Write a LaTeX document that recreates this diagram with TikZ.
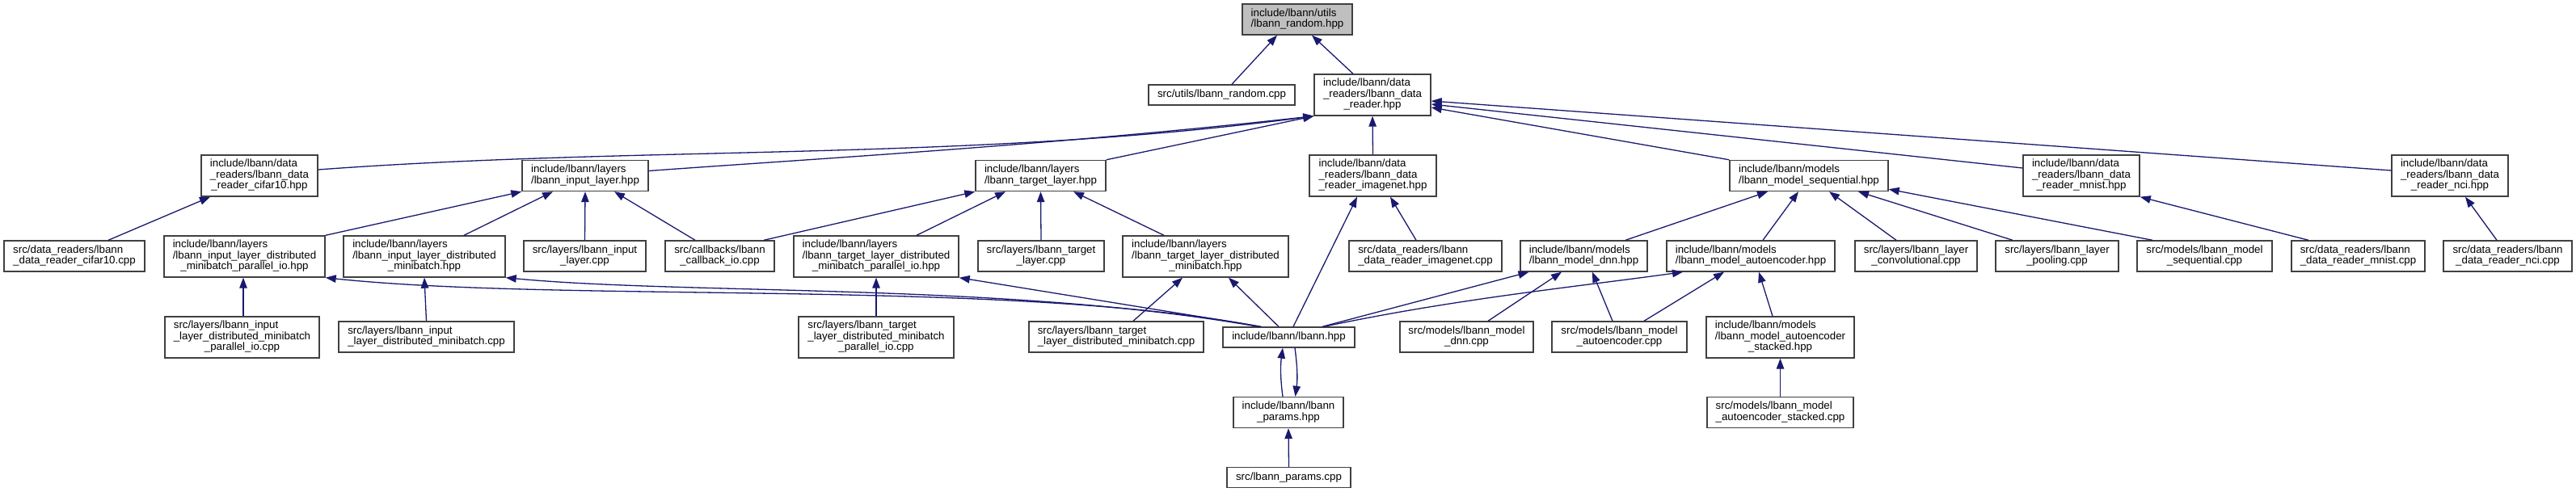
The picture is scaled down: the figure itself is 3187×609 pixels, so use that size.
\documentclass[tikz,border=0pt]{standalone}
\usepackage{fontspec}
\setmainfont{Liberation Sans}
\usetikzlibrary{arrows.meta}
\definecolor{mblue}{RGB}{25,25,112}
\definecolor{boxc}{RGB}{64,64,64}
\definecolor{rootfill}{RGB}{191,191,191}
\newcommand\lbfont{\fontsize{13.3}{13}\selectfont}
\newcommand\lines[2]{\begin{tabular}{@{}l@{}}#1\\\multicolumn{1}{@{}c@{}}{#2}\end{tabular}}
\tikzset{
  filebox/.style={draw=boxc, line width=1.4pt, fill=white, inner sep=0pt, font=\lbfont},
  rootbox/.style={filebox, fill=rootfill},
  dep/.style={draw=mblue, line width=1.3pt, arrows={Triangle[length=13pt,width=9.5pt]-}}
}
\begin{document}
\begin{tikzpicture}[x=1pt,y=-1pt]
\fill[white] (0,0) rectangle (3187,609);
\useasboundingbox (0,0) rectangle (3187,609);
% row 0
\node[rootbox, minimum width=136pt, minimum height=38pt] (random_h) at (1605,24) {\lines{include/lbann/utils}{/lbann\_random.hpp}};
% row 1
\node[filebox, minimum width=181pt, minimum height=25pt] (random_cpp) at (1511.5,117.5) {src/utils/lbann\_random.cpp};
\node[filebox, minimum width=144pt, minimum height=51pt] (dr_h) at (1698,117.5) {\lines{include/lbann/data\\\_readers/lbann\_data}{\_reader.hpp}};
% row 2
\node[filebox, minimum width=144pt, minimum height=51pt] (cifar_h) at (321,217.5) {\lines{include/lbann/data\\\_readers/lbann\_data}{\_reader\_cifar10.hpp}};
\node[filebox, minimum width=156pt, minimum height=38pt] (inl_h) at (724,217.5) {\lines{include/lbann/layers}{/lbann\_input\_layer.hpp}};
\node[filebox, minimum width=161pt, minimum height=38pt] (tgl_h) at (1287.5,217.5) {\lines{include/lbann/layers}{/lbann\_target\_layer.hpp}};
\node[filebox, minimum width=157pt, minimum height=51pt] (img_h) at (1698.5,217.5) {\lines{include/lbann/data\\\_readers/lbann\_data}{\_reader\_imagenet.hpp}};
\node[filebox, minimum width=196pt, minimum height=38pt] (seq_h) at (2238,217.5) {\lines{include/lbann/models}{/lbann\_model\_sequential.hpp}};
\node[filebox, minimum width=144pt, minimum height=51pt] (mnist_h) at (2575,217.5) {\lines{include/lbann/data\\\_readers/lbann\_data}{\_reader\_mnist.hpp}};
\node[filebox, minimum width=144pt, minimum height=51pt] (nci_h) at (3031,217.5) {\lines{include/lbann/data\\\_readers/lbann\_data}{\_reader\_nci.hpp}};
% row 3
\node[filebox, minimum width=174pt, minimum height=38pt] (cifar_cpp) at (92,317) {\lines{src/data\_readers/lbann}{\_data\_reader\_cifar10.cpp}};
\node[filebox, minimum width=199pt, minimum height=51pt] (indmp_h) at (302.5,317.5) {\lines{include/lbann/layers\\/lbann\_input\_layer\_distributed}{\_minibatch\_parallel\_io.hpp}};
\node[filebox, minimum width=200pt, minimum height=51pt] (indm_h) at (525,317.5) {\lines{include/lbann/layers\\/lbann\_input\_layer\_distributed}{\_minibatch.hpp}};
\node[filebox, minimum width=151pt, minimum height=38pt] (inl_cpp) at (723.5,317) {\lines{src/layers/lbann\_input}{\_layer.cpp}};
\node[filebox, minimum width=135pt, minimum height=38pt] (cb_cpp) at (890.5,317) {\lines{src/callbacks/lbann}{\_callback\_io.cpp}};
\node[filebox, minimum width=204pt, minimum height=51pt] (tgdmp_h) at (1084,317.5) {\lines{include/lbann/layers\\/lbann\_target\_layer\_distributed}{\_minibatch\_parallel\_io.hpp}};
\node[filebox, minimum width=156pt, minimum height=38pt] (tgl_cpp) at (1288,317) {\lines{src/layers/lbann\_target}{\_layer.cpp}};
\node[filebox, minimum width=205pt, minimum height=51pt] (tgdm_h) at (1491.5,317.5) {\lines{include/lbann/layers\\/lbann\_target\_layer\_distributed}{\_minibatch.hpp}};
\node[filebox, minimum width=189pt, minimum height=38pt] (img_cpp) at (1763.5,317) {\lines{src/data\_readers/lbann}{\_data\_reader\_imagenet.cpp}};
\node[filebox, minimum width=157pt, minimum height=38pt] (dnn_h) at (1959.5,317) {\lines{include/lbann/models}{/lbann\_model\_dnn.hpp}};
\node[filebox, minimum width=208pt, minimum height=38pt] (ae_h) at (2166,317) {\lines{include/lbann/models}{/lbann\_model\_autoencoder.hpp}};
\node[filebox, minimum width=151pt, minimum height=38pt] (conv_cpp) at (2370.5,317) {\lines{src/layers/lbann\_layer}{\_convolutional.cpp}};
\node[filebox, minimum width=152pt, minimum height=38pt] (pool_cpp) at (2545,317) {\lines{src/layers/lbann\_layer}{\_pooling.cpp}};
\node[filebox, minimum width=167pt, minimum height=38pt] (seq_cpp) at (2727.5,317) {\lines{src/models/lbann\_model}{\_sequential.cpp}};
\node[filebox, minimum width=165pt, minimum height=38pt] (mnist_cpp) at (2917.5,317) {\lines{src/data\_readers/lbann}{\_data\_reader\_mnist.cpp}};
\node[filebox, minimum width=159pt, minimum height=38pt] (nci_cpp) at (3102.5,317) {\lines{src/data\_readers/lbann}{\_data\_reader\_nci.cpp}};
% row 4
\node[filebox, minimum width=191pt, minimum height=51pt] (indmp_cpp) at (299.5,417.5) {\lines{src/layers/lbann\_input\\\_layer\_distributed\_minibatch}{\_parallel\_io.cpp}};
\node[filebox, minimum width=217pt, minimum height=38pt] (indm_cpp) at (527.5,417) {\lines{src/layers/lbann\_input}{\_layer\_distributed\_minibatch.cpp}};
\node[filebox, minimum width=192pt, minimum height=51pt] (tgdmp_cpp) at (1084,417.5) {\lines{src/layers/lbann\_target\\\_layer\_distributed\_minibatch}{\_parallel\_io.cpp}};
\node[filebox, minimum width=216pt, minimum height=38pt] (tgdm_cpp) at (1381,417) {\lines{src/layers/lbann\_target}{\_layer\_distributed\_minibatch.cpp}};
\node[filebox, minimum width=163pt, minimum height=25pt] (lbann_h) at (1594.5,417.5) {include/lbann/lbann.hpp};
\node[filebox, minimum width=165pt, minimum height=38pt] (dnn_cpp) at (1814.5,417) {\lines{src/models/lbann\_model}{\_dnn.cpp}};
\node[filebox, minimum width=167pt, minimum height=38pt] (ae_cpp) at (2003.5,417) {\lines{src/models/lbann\_model}{\_autoencoder.cpp}};
\node[filebox, minimum width=183pt, minimum height=51pt] (aes_h) at (2202.5,417.5) {\lines{include/lbann/models\\/lbann\_model\_autoencoder}{\_stacked.hpp}};
% row 5
\node[filebox, minimum width=136pt, minimum height=38pt] (params_h) at (1594,510.5) {\lines{include/lbann/lbann}{\_params.hpp}};
\node[filebox, minimum width=181pt, minimum height=38pt] (aes_cpp) at (2202.5,510.5) {\lines{src/models/lbann\_model}{\_autoencoder\_stacked.cpp}};
% row 6
\node[filebox, minimum width=153pt, minimum height=25pt] (params_cpp) at (1594.5,591) {src/lbann\_params.cpp};

% edges
\draw[dep] ([xshift=-25pt]random_h.south) -- ([xshift=12.5pt]random_cpp.north);
\draw[dep] ([xshift=18pt]random_h.south) -- ([xshift=-24pt]dr_h.north);
\draw[dep] (dr_h.south west) .. controls (1200,200) and (800,180) .. ([yshift=7.5pt]cifar_h.east);
\draw[dep] (dr_h.south west) .. controls (1300,180) and (1000,197) .. ([yshift=6pt]inl_h.east);
\draw[dep] (dr_h.south west) -- (tgl_h.north east);
\draw[dep] (dr_h.south) -- (img_h.north);
\draw[dep] ([yshift=-15.5pt]dr_h.east) -- (seq_h.north west);
\draw[dep] ([yshift=-11.5pt]dr_h.east) -- ([yshift=9.5pt]mnist_h.west);
\draw[dep] ([yshift=-7.5pt]dr_h.east) -- ([yshift=6.5pt]nci_h.west);
\draw[dep] ([xshift=-61pt]cifar_h.south) -- ([xshift=42pt]cifar_cpp.north);
\draw[dep] (inl_h.south west) -- (indmp_h.north east);
\draw[dep] ([xshift=-40pt]inl_h.south) -- ([xshift=49pt]indm_h.north);
\draw[dep] (inl_h.south) -- (inl_cpp.north);
\draw[dep] ([xshift=36pt]inl_h.south) -- ([xshift=-30.5pt]cb_cpp.north);
\draw[dep] (tgl_h.south west) -- ([xshift=54.5pt]cb_cpp.north);
\draw[dep] ([xshift=-43.5pt]tgl_h.south) -- ([xshift=50pt]tgdmp_h.north);
\draw[dep] (tgl_h.south) -- (tgl_cpp.north);
\draw[dep] ([xshift=40.5pt]tgl_h.south) -- ([xshift=-51.5pt]tgdm_h.north);
\draw[dep] ([xshift=-1.5pt]indmp_h.south) -- ([xshift=1.5pt]indmp_cpp.north);
\draw[dep] (indm_h.south) -- (indm_cpp.north);
\draw[dep] (tgdmp_h.south) -- (tgdmp_cpp.north);
\draw[dep] ([xshift=-28.5pt]tgdm_h.south) -- ([xshift=21pt]tgdm_cpp.north);
\draw[dep] ([xshift=28.5pt]tgdm_h.south) -- ([xshift=-12.5pt]lbann_h.north);
\draw[dep] (indmp_h.south east) .. controls (700,375) and (1250,345) .. ([xshift=-36pt]lbann_h.north);
\draw[dep] (indm_h.south east) .. controls (850,365) and (1250,350) .. ([xshift=-38pt]lbann_h.north);
\draw[dep] (tgdmp_h.south east) -- ([xshift=-34pt]lbann_h.north);
\draw[dep] ([xshift=-19.5pt]img_h.south) -- ([xshift=5.5pt]lbann_h.north);
\draw[dep] ([xshift=-68pt]dnn_h.south) -- ([xshift=41.5pt]lbann_h.north);
\draw[dep] ([xshift=-84pt]ae_h.south) .. controls (1950,355) and (1800,370) .. ([xshift=43.5pt]lbann_h.north);
\draw[dep] ([xshift=-7.5pt]lbann_h.south) .. controls +(-3,22) and +(-3,-22) .. ([xshift=-7pt]params_h.north);
\draw[dep] ([xshift=8.5pt]params_h.north) .. controls +(3,-22) and +(3,22) .. ([xshift=7.5pt]lbann_h.south);
\draw[dep] (params_h.south) -- (params_cpp.north);
\draw[dep] ([xshift=-51pt]seq_h.south) -- ([xshift=51.5pt]dnn_h.north);
\draw[dep] ([xshift=-13pt]seq_h.south) -- ([xshift=15pt]ae_h.north);
\draw[dep] ([xshift=25pt]seq_h.south) -- ([xshift=-24.5pt]conv_cpp.north);
\draw[dep] ([xshift=61pt]seq_h.south) -- ([xshift=-55pt]pool_cpp.north);
\draw[dep] ([yshift=3pt]seq_h.south east) -- ([xshift=-64.5pt]seq_cpp.north);
\draw[dep] ([xshift=-27.5pt]dnn_h.south) -- ([xshift=26.5pt]dnn_cpp.north);
\draw[dep] ([xshift=10.5pt]dnn_h.south) -- ([xshift=-8.5pt]ae_cpp.north);
\draw[dep] ([xshift=-33pt]ae_h.south) -- ([xshift=30.5pt]ae_cpp.north);
\draw[dep] ([xshift=10pt]ae_h.south) -- ([xshift=-9.5pt]aes_h.north);
\draw[dep] (aes_h.south) -- (aes_cpp.north);
\draw[dep] ([xshift=21.5pt]img_h.south) -- ([xshift=-11.5pt]img_cpp.north);
\draw[dep] (mnist_h.south east) -- ([xshift=-61.5pt]mnist_cpp.north);
\draw[dep] ([xshift=19pt]nci_h.south) -- ([xshift=-13.5pt]nci_cpp.north);
\end{tikzpicture}
\end{document}
